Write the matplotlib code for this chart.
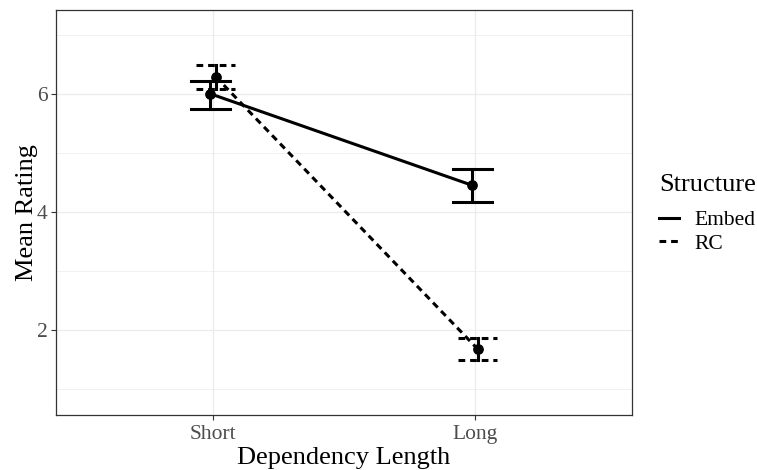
import numpy as np
import matplotlib.pyplot as plt
from matplotlib.lines import Line2D

plt.rcParams["font.family"] = ["Liberation Serif", "DejaVu Serif"]

# data
lengths = ["Short", "Long"]
structures = ["Embed", "RC"]
means = {"Embed": [6.00, 4.45], "RC": [6.29, 1.68]}
lower = {"Embed": [5.75, 4.17], "RC": [6.09, 1.49]}
upper = {"Embed": [6.22, 4.72], "RC": [6.49, 1.86]}
dodge = {"Embed": -0.01, "RC": 0.01}
styles = {"Embed": "-", "RC": (0, (2.2, 1.6))}

fig = plt.figure(figsize=(7.57, 4.70), dpi=100)
ax = fig.add_axes([56 / 757, 55 / 470, 576 / 757, 405 / 470])

x = np.arange(1, len(lengths) + 1)
for s in structures:
    xs = x + dodge[s]
    m = np.array(means[s])
    lo = np.array(lower[s])
    hi = np.array(upper[s])
    ax.plot(xs, m, color="black", lw=2.2, linestyle=styles[s], zorder=3)
    ax.scatter(xs, m, color="black", s=45, zorder=4)
    for xi, l, h in zip(xs, lo, hi):
        ax.plot([xi, xi], [l, h], color="black", lw=2.2, zorder=3)
        for yy in (l, h):
            ax.plot([xi - 0.075, xi + 0.075], [yy, yy], color="black", lw=2.2,
                    linestyle=styles[s], zorder=3)

ax.set_xlim(0.4, 2.6)
ax.set_ylim(0.56, 7.42)
ax.set_xticks(x)
ax.set_xticklabels(lengths)
ax.set_yticks([2, 4, 6])
ax.set_yticks([1, 3, 5, 7], minor=True)
ax.grid(True, which="major", color="#EBEBEB", lw=0.9)
ax.grid(True, which="minor", axis="y", color="#EBEBEB", lw=0.5)
ax.set_axisbelow(True)
ax.tick_params(axis="both", which="major", labelsize=15.5, labelcolor="#4D4D4D",
               color="#333333", length=3.5, width=0.8, pad=2.5)
ax.tick_params(axis="x", which="major", pad=4)
ax.tick_params(axis="both", which="minor", length=0)
for sp in ax.spines.values():
    sp.set_color("#333333")
    sp.set_linewidth(0.9)

ax.set_xlabel("Dependency Length", fontsize=19, labelpad=2)
ax.set_ylabel("Mean Rating", fontsize=19, labelpad=-1)

handles = [Line2D([0], [0], color="black", lw=2.2, linestyle=styles[s]) for s in structures]
leg = fig.legend(handles, structures, title="Structure", loc="upper left",
                 bbox_to_anchor=(640 / 757, 1 - 155 / 470), frameon=False,
                 fontsize=15.5, title_fontsize=19, handlelength=0.9,
                 handletextpad=0.75, labelspacing=0.15)
leg._legend_box.align = "left"
leg._legend_box.sep = 10

fig.savefig("out.png", dpi=100)
